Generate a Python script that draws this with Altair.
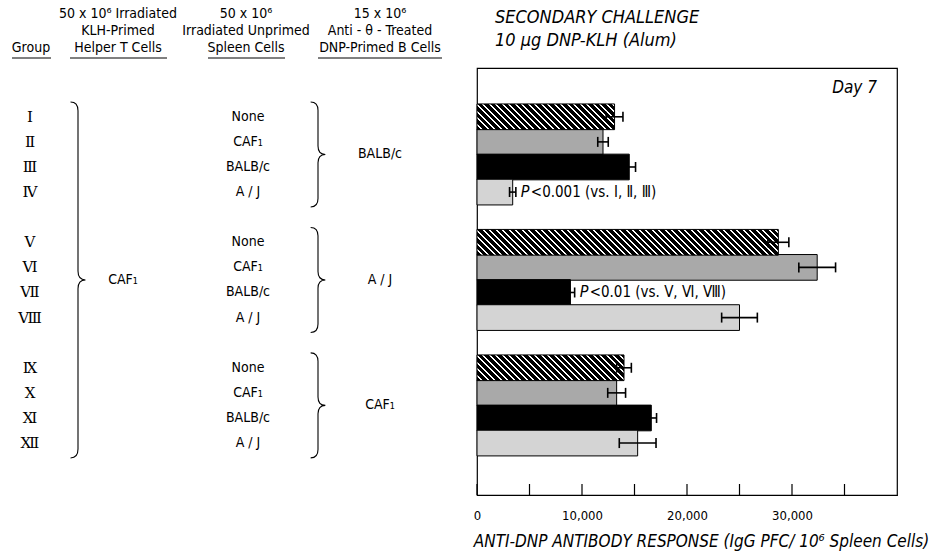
import altair as alt
import pandas as pd

# ---------------------------------------------------------------- data
groups = ["Ⅰ", "Ⅱ", "Ⅲ", "Ⅳ", "Ⅴ", "Ⅵ", "Ⅶ", "Ⅷ", "Ⅸ", "Ⅹ", "Ⅺ", "Ⅻ"]
spleen_cells = ["None", "CAF₁", "BALB/c", "A / J"] * 3
b_cell_donors = ["BALB/c", "A / J", "CAF₁"]
helper_donor = "CAF₁"
pfc_mean = [13100, 12000, 14500, 3400, 28700, 32400, 8900, 25000,
            14000, 13300, 16600, 15300]
pfc_sem = [800, 500, 600, 300, 1000, 1750, 400, 1700,
           700, 850, 500, 1750]
fill_kind = ["hatch", "fine", "solid", "sparse"] * 3
p_note_groups = ["Ⅳ", "Ⅶ"]
p_notes = ["<0.001 (vs. Ⅰ, Ⅱ, Ⅲ)", "<0.01 (vs. Ⅴ, Ⅵ, Ⅷ)"]
x_ticks = [0, 5000, 10000, 15000, 20000, 25000, 30000, 35000]
x_labels = [0, 10000, 20000, 30000]

header_group = ["Group"]
header_helper = ["50 x 10⁶ Irradiated", "KLH-Primed", "Helper T Cells"]
header_spleen = ["50 x 10⁶", "Irradiated Unprimed", "Spleen Cells"]
header_bcell = ["15 x 10⁶", "Anti - θ - Treated", "DNP-Primed B Cells"]
title_lines = ["SECONDARY CHALLENGE", "10 µg DNP-KLH (Alum)"]
axis_title = "ANTI-DNP ANTIBODY RESPONSE (IgG PFC/ 10⁶ Spleen Cells)"
panel_label = "Day 7"

# ---------------------------------------------------------------- layout
FONT = "'Liberation Sans Narrow', 'DejaVu Sans Condensed', 'Roboto Condensed', 'Liberation Sans', sans-serif"
NUM_FONT = "'DejaVu Serif', serif"
W, H = 420, 427
X_MAX = 40000
ROW_PX = 25.7
PAD_LEFT, PAD_TOP = 477, 68

x_scale = alt.Scale(domain=[0, X_MAX], nice=False, zero=True)
y_scale = alt.Scale(domain=[-1.745, 14.87], reverse=True, nice=False, zero=False)

x_axis = alt.Axis(values=x_labels, labelExpr="format(datum.value, ',')",
                  ticks=False, tickSize=0,
                  domain=True, domainColor="black", domainWidth=1.2,
                  labelFont=FONT, labelFontSize=13, labelColor="black",
                  labelPadding=14, labelFlush=False, grid=False,
                  title=axis_title, titleFont=FONT, titleFontSize=17,
                  titleFontStyle="italic", titleFontWeight="normal",
                  titleColor="black", titleX=224, titleY=46,
                  titleBaseline="middle", titleAlign="center")


def col_x(px):
    """Canvas x of a table column, expressed relative to the plot area."""
    return alt.value(px - PAD_LEFT)


def row_y(px):
    return alt.value(px - PAD_TOP)


# ---------------------------------------------------------------- tables
df = pd.DataFrame({"group": groups, "spleen": spleen_cells,
                   "mean": pfc_mean, "sem": pfc_sem, "kind": fill_kind})
df["slot"] = [i + i // 4 for i in range(len(df))]   # blank slot between groups
df["lo"] = df["mean"] - df["sem"]
df["hi"] = df["mean"] + df["sem"]

centers = [(df["slot"][4 * g] + df["slot"][4 * g + 3]) / 2 for g in range(3)]
bcell_df = pd.DataFrame({"donor": b_cell_donors, "slot": centers})
helper_df = pd.DataFrame({"donor": [helper_donor],
                          "slot": [(df["slot"].iloc[0] + df["slot"].iloc[-1]) / 2]})
notes_df = df[df["group"].isin(p_note_groups)].copy()
notes_df["note"] = [p_notes[p_note_groups.index(g)] for g in notes_df["group"]]
ticks_df = pd.DataFrame({"t": x_ticks})

base = alt.Chart(df)


def hatch_fill(w, h, period=6.5, ink=0.68):
    """Diagonal black/white hatching as a hard-stop linear gradient."""
    k = (w + h) / (w * w + h * h)
    n = (w + h) / period
    stops = []
    j = 0
    while j / n < 1:
        a, b, c = j / n, min((j + ink) / n, 1), min((j + 1) / n, 1)
        stops += [alt.GradientStop(color="black", offset=a),
                  alt.GradientStop(color="black", offset=b),
                  alt.GradientStop(color="white", offset=b),
                  alt.GradientStop(color="white", offset=c)]
        j += 1
    return alt.LinearGradient(gradient="linear", x1=0, y1=1,
                              x2=k * w, y2=1 - k * h, stops=stops)


X_mean = alt.X("mean:Q", scale=x_scale, axis=x_axis)
Y_slot = alt.Y("slot:Q", scale=y_scale, axis=None)

bars = base.transform_filter("datum.kind != 'hatch'").mark_bar(
    orient="horizontal", size=ROW_PX, stroke="black", strokeWidth=1
).encode(
    x=X_mean, y=Y_slot,
    fill=alt.Fill("kind:N", legend=None,
                  scale=alt.Scale(domain=["fine", "solid", "sparse"],
                                  range=["#a9a9a9", "#000000", "#d4d4d4"])),
)

hatch_layers = []
for g, v, kind in zip(groups, pfc_mean, fill_kind):
    if kind != "hatch":
        continue
    w_px = v / X_MAX * W
    hatch_layers.append(
        base.transform_filter(alt.datum.group == g).mark_bar(
            orient="horizontal", size=ROW_PX, stroke="black", strokeWidth=1,
            fill=hatch_fill(w_px, ROW_PX)
        ).encode(x=X_mean, y=Y_slot)
    )

err_rule = base.mark_rule(color="black", strokeWidth=1.6).encode(
    x=alt.X("lo:Q", scale=x_scale, axis=x_axis), x2="hi:Q", y=Y_slot)
err_lo = base.mark_tick(orient="vertical", size=10, thickness=1.6,
                        color="black", opacity=1).encode(
    x=alt.X("lo:Q", scale=x_scale, axis=x_axis), y=Y_slot)
err_hi = base.mark_tick(orient="vertical", size=10, thickness=1.6,
                        color="black", opacity=1).encode(
    x=alt.X("hi:Q", scale=x_scale, axis=x_axis), y=Y_slot)

inner_ticks = alt.Chart(ticks_df).mark_rule(color="black", strokeWidth=1.2).encode(
    x=alt.X("t:Q", scale=x_scale, axis=x_axis),
    y=alt.value(H), y2=alt.value(H - 11))

notes = alt.Chart(notes_df)
note_p = notes.mark_text(align="left", baseline="middle", dx=5, font=FONT,
                         fontSize=16, fontStyle="italic", color="black").encode(
    x=alt.X("hi:Q", scale=x_scale, axis=x_axis), y=Y_slot, text=alt.value("P"))
note_txt = notes.mark_text(align="left", baseline="middle", dx=15, font=FONT,
                           fontSize=15, color="black").encode(
    x=alt.X("hi:Q", scale=x_scale, axis=x_axis), y=Y_slot, text="note:N")

day_label = alt.Chart(pd.DataFrame({"t": [panel_label]})).mark_text(
    align="right", baseline="middle", font=FONT, fontSize=17,
    fontStyle="italic", color="black").encode(
    x=alt.value(W - 20), y=alt.value(20), text="t:N")

# chart heading, two italic lines above the frame
title_df = pd.DataFrame({"t": title_lines, "line": [0, 1]})
title_layers = [
    alt.Chart(title_df[title_df["line"] == i]).mark_text(
        align="left", baseline="middle", font=FONT, fontSize=18,
        fontStyle="italic", color="black").encode(
        x=col_x(495), y=row_y(yy), text="t:N")
    for i, yy in [(0, 18), (1, 41)]
]

# ------------------------------------------------------- left-hand table
txt = dict(baseline="middle", align="center", color="black")

group_txt = base.mark_text(font=NUM_FONT, fontSize=15, **txt).encode(
    x=col_x(30), y=Y_slot, text="group:N")
spleen_txt = base.mark_text(font=FONT, fontSize=14, **txt).encode(
    x=col_x(248), y=Y_slot, text="spleen:N")
bcell_txt = alt.Chart(bcell_df).mark_text(font=FONT, fontSize=14, **txt).encode(
    x=col_x(380), y=alt.Y("slot:Q", scale=y_scale, axis=None), text="donor:N")
helper_txt = alt.Chart(helper_df).mark_text(font=FONT, fontSize=14, **txt).encode(
    x=col_x(123), y=alt.Y("slot:Q", scale=y_scale, axis=None), text="donor:N")


def brace_path(half_w, curl):
    """Right-pointing curly brace spanning y = -1..1 (symbol units)."""
    w, c = half_w, curl
    return (f"M {-w} -1 Q 0 -1 0 {-1 + c} L 0 {-c} Q 0 0 {w} 0 "
            f"Q 0 0 0 {c} L 0 {1 - c} Q 0 1 {-w} 1")


small_brace = alt.Chart(bcell_df).mark_point(
    shape=brace_path(0.14, 0.16), size=105 ** 2, filled=False,
    stroke="black", strokeWidth=1.1, opacity=1).encode(
    x=col_x(318), y=alt.Y("slot:Q", scale=y_scale, axis=None))
big_brace = alt.Chart(helper_df).mark_point(
    shape=brace_path(0.042, 0.05), size=356 ** 2, filled=False,
    stroke="black", strokeWidth=1.1, opacity=1).encode(
    x=col_x(78), y=alt.Y("slot:Q", scale=y_scale, axis=None))

# column headings
header_layers = []
for lines, cx in [(header_group, 31), (header_helper, 118),
                  (header_spleen, 246), (header_bcell, 380)]:
    ys = [14, 31, 48] if len(lines) == 3 else [48]
    for line, yy in zip(lines, ys):
        header_layers.append(
            alt.Chart(pd.DataFrame({"t": [line]})).mark_text(
                font=FONT, fontSize=14, **txt).encode(
                x=col_x(cx), y=row_y(yy), text="t:N"))

underline_df = pd.DataFrame({"h": ["Group", "Helper T Cells", "Spleen Cells",
                                   "DNP-Primed B Cells"]})
underline_spans = {"Group": (12, 51), "Helper T Cells": (70, 167),
                   "Spleen Cells": (208, 285), "DNP-Primed B Cells": (318, 442)}
underline_layers = [
    alt.Chart(underline_df[underline_df["h"] == h]).mark_rule(
        color="black", strokeWidth=1).encode(
        x=col_x(a), x2=col_x(b), y=row_y(58))
    for h, (a, b) in underline_spans.items()
]

chart = alt.layer(
    bars, *hatch_layers, err_rule, err_lo, err_hi, inner_ticks,
    note_p, note_txt, day_label, *title_layers,
    group_txt, spleen_txt, bcell_txt, helper_txt, small_brace, big_brace,
    *header_layers, *underline_layers,
).properties(
    width=W, height=H,
    autosize=alt.AutoSizeParams(type="none"),
    padding={"left": PAD_LEFT, "top": PAD_TOP, "right": 939 - PAD_LEFT - W,
             "bottom": 558 - PAD_TOP - H},
    background="white",
).configure_view(stroke="black", strokeWidth=1.2)

chart.save("out.html", embed_options={"renderer": "svg", "actions": False})
